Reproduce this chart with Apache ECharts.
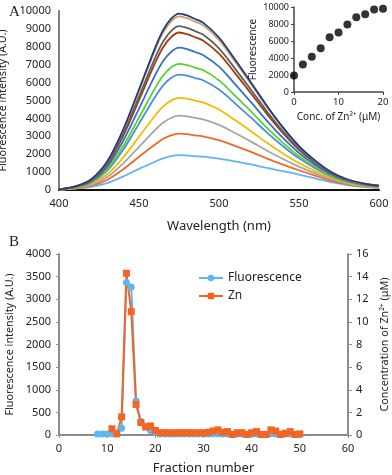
<!DOCTYPE html>
<html>
<head>
<meta charset="utf-8">
<script src="https://cdn.jsdelivr.net/npm/echarts@6/dist/echarts.min.js"></script>
<style>
  html, body { margin: 0; padding: 0; background: #fff; }
  #main { width: 392px; height: 475px; }
</style>
</head>
<body>
<div id="main"></div>
<script>
// ---- panel A: emission spectra, one curve per Zn2+ addition ----
var wavelengths = [400, 410, 420, 430, 440, 450, 460, 465, 470, 475, 480, 485, 490, 500,
                   510, 520, 530, 540, 550, 560, 570, 580, 590, 600];
var spec0  = [20, 78, 170, 380, 750, 1180, 1580, 1765, 1890, 1950, 1930, 1892, 1865, 1755, 1600, 1430, 1230, 1050, 860, 650, 440, 280, 175, 115];
var spec2  = [22, 96, 234, 562, 1145, 1854, 2540, 2850, 3055, 3150, 3120, 3055, 3000, 2783, 2465, 2126, 1757, 1422, 1102, 803, 529, 329, 205, 135];
var spec4  = [23, 111, 287, 712, 1473, 2413, 3345, 3755, 4025, 4150, 4110, 4025, 3945, 3636, 3182, 2703, 2194, 1730, 1303, 929, 603, 369, 230, 151];
var spec6  = [24, 126, 341, 864, 1803, 2976, 4150, 4660, 4995, 5150, 5100, 4995, 4895, 4495, 3904, 3284, 2635, 2041, 1505, 1057, 677, 410, 256, 168];
var spec8  = [26, 146, 410, 1062, 2231, 3708, 5195, 5835, 6255, 6450, 6385, 6255, 6130, 5611, 4843, 4040, 3207, 2445, 1768, 1223, 773, 463, 288, 190];
var spec10 = [26, 155, 442, 1153, 2429, 4045, 5675, 6380, 6840, 7050, 6980, 6840, 6700, 6125, 5275, 4388, 3470, 2631, 1889, 1299, 818, 487, 304, 200];
var spec12 = [28, 168, 490, 1288, 2723, 4546, 6400, 7195, 7710, 7950, 7870, 7710, 7545, 6890, 5918, 4905, 3862, 2907, 2069, 1413, 884, 524, 326, 214];
var spec14 = [29, 181, 535, 1417, 3003, 5025, 7085, 7965, 8535, 8800, 8710, 8535, 8355, 7620, 6532, 5400, 4237, 3172, 2241, 1521, 947, 558, 348, 229];
var spec16 = [29, 186, 554, 1470, 3118, 5220, 7365, 8280, 8875, 9150, 9060, 8875, 8685, 7918, 6783, 5601, 4389, 3279, 2311, 1566, 973, 572, 356, 234];
var spec18 = [30, 195, 583, 1553, 3300, 5531, 7810, 8780, 9410, 9700, 9605, 9410, 9210, 8391, 7181, 5922, 4632, 3450, 2423, 1636, 1014, 595, 370, 244];
var spec20 = [30, 197, 591, 1576, 3349, 5615, 7930, 8915, 9555, 9850, 9750, 9555, 9350, 8520, 7289, 6009, 4698, 3497, 2453, 1655, 1005, 601, 374, 246];

var spectra = [spec0, spec2, spec4, spec6, spec8, spec10, spec12, spec14, spec16, spec18, spec20];
var specColors = ['#5eb5f2', '#f2692c', '#a6a6a6', '#f7b900', '#4a8ede', '#5ccf2e',
                  '#3572c6', '#a03d16', '#5f5f5f', '#cf9e63', '#1f3a80'];

// inset: peak fluorescence vs Zn2+ concentration
var znConc = [0, 2, 4, 6, 8, 10, 12, 14, 16, 18, 20];
var peakFluor = [1950, 3250, 4150, 5150, 6450, 7000, 7950, 8800, 9150, 9700, 9800];

// ---- panel B: fractions ----
var fluorFractions = [8, 9, 10, 11, 12, 13, 14, 15, 16, 17, 18, 19, 20, 21, 22, 23, 24, 25, 26, 27, 28, 29,
                      30, 31, 32, 33, 34, 35, 36, 37, 38, 39, 40, 41, 42, 43, 44, 45, 46, 47, 48, 49, 50];
var fluorValues = [20, 20, 20, 25, 30, 150, 3370, 3270, 750, 300, 200, 100, 60, 20, 20, 20, 20, 20, 20, 20, 20, 20,
                   20, 20, 30, 30, 20, 20, 10, 20, 20, 10, 20, 20, 10, 10, 30, 20, 10, 20, 20, 10, 10];
var znFractions = [11, 12, 13, 14, 15, 16, 17, 18, 19, 20, 21, 22, 23, 24, 25, 26, 27, 28, 29,
                   30, 31, 32, 33, 34, 35, 36, 37, 38, 39, 40, 41, 42, 43, 44, 45, 46, 47, 48, 49, 50];
var znValues = [0.55, 0.1, 1.6, 14.3, 10.9, 2.7, 1.1, 0.7, 0.8, 0.4, 0.2, 0.2, 0.2, 0.2, 0.2, 0.2, 0.2, 0.2, 0.2,
                0.2, 0.25, 0.35, 0.45, 0.25, 0.3, 0.05, 0.2, 0.2, 0.05, 0.2, 0.3, 0.05, 0.05, 0.45, 0.35, 0.05, 0.15, 0.3, 0.05, 0.1];

function pairs(xs, ys) {
    return xs.map(function (x, i) { return [x, ys[i]]; });
}
function plain(v) { return String(v); }

var FONT = 'Noto Sans';
var dom = document.getElementById('main');
var myChart = echarts.init(dom, null, { renderer: 'canvas' });

var series = [];
spectra.forEach(function (s, i) {
    series.push({
        type: 'line',
        xAxisIndex: 0, yAxisIndex: 0,
        data: pairs(wavelengths, s),
        smooth: 0.3,
        showSymbol: false,
        lineStyle: { color: specColors[i], width: 1.8 },
        z: 2 + i
    });
});
series.push({
    type: 'scatter',
    xAxisIndex: 1, yAxisIndex: 1,
    data: pairs(znConc, peakFluor),
    symbolSize: 8,
    itemStyle: { color: '#000' }
});
series.push({
    name: 'Fluorescence',
    type: 'line',
    xAxisIndex: 2, yAxisIndex: 2,
    data: pairs(fluorFractions, fluorValues),
    symbol: 'circle', symbolSize: 7,
    lineStyle: { color: '#5eb5f2', width: 2 },
    itemStyle: { color: '#5eb5f2' }
});
series.push({
    name: 'Zn',
    type: 'line',
    xAxisIndex: 2, yAxisIndex: 3,
    data: pairs(znFractions, znValues),
    symbol: 'rect', symbolSize: 7,
    lineStyle: { color: '#f26522', width: 2 },
    itemStyle: { color: '#f26522' }
});

var tickLbl = { fontFamily: FONT, fontSize: 11, color: '#222', formatter: plain };

var option = {
    animation: false,
    textStyle: { fontFamily: FONT },
    title: [
        { text: 'A', left: 4, top: 0, textStyle: { fontFamily: 'Liberation Serif', fontSize: 15, fontWeight: 'normal', color: '#222' } },
        { text: 'B', left: 4, top: 230, textStyle: { fontFamily: 'Liberation Serif', fontSize: 15, fontWeight: 'normal', color: '#222' } }
    ],
    legend: {
        left: 193, top: 267, orient: 'vertical',
        itemWidth: 24, itemHeight: 8, itemGap: 6,
        textStyle: { fontFamily: FONT, fontSize: 12, color: '#222' },
        data: ['Fluorescence', 'Zn']
    },
    grid: [
        { left: 59, top: 11, width: 320, height: 179, containLabel: false, outerBoundsMode: 'none' },
        { left: 294, top: 7, width: 89, height: 85, containLabel: false, outerBoundsMode: 'none' },
        { left: 59, top: 254, width: 289, height: 181, containLabel: false, outerBoundsMode: 'none' }
    ],
    xAxis: [
        {
            gridIndex: 0, type: 'value', min: 400, max: 600, interval: 50,
            name: 'Wavelength (nm)', nameLocation: 'middle', nameGap: 30,
            nameTextStyle: { fontFamily: FONT, fontSize: 13, color: '#222' },
            axisLine: { lineStyle: { color: '#111', width: 2 } },
            axisTick: { show: false },
            axisLabel: tickLbl,
            splitLine: { show: false }
        },
        {
            gridIndex: 1, type: 'value', min: 0, max: 20, interval: 10,
            name: 'Conc. of Zn²⁺ (μM)', nameLocation: 'middle', nameGap: 20,
            nameTextStyle: { fontFamily: FONT, fontSize: 10, color: '#222' },
            axisLine: { lineStyle: { color: '#444', width: 1.5 } },
            axisTick: { show: true, length: 3, lineStyle: { color: '#444' } },
            axisLabel: { fontFamily: FONT, fontSize: 9.5, color: '#222', margin: 5, formatter: plain },
            splitLine: { show: false }
        },
        {
            gridIndex: 2, type: 'value', min: 0, max: 60, interval: 10,
            name: 'Fraction number', nameLocation: 'middle', nameGap: 27,
            nameTextStyle: { fontFamily: FONT, fontSize: 13, color: '#222' },
            axisLine: { onZero: false, lineStyle: { color: '#8c8c8c', width: 2 } },
            axisTick: { show: true, length: 3, lineStyle: { color: '#8c8c8c' } },
            axisLabel: tickLbl,
            splitLine: { show: false }
        }
    ],
    yAxis: [
        {
            gridIndex: 0, type: 'value', min: 0, max: 10000, interval: 1000,
            name: 'Fluorescence intensity (A.U.)', nameLocation: 'middle', nameGap: 36,
            nameTextStyle: { fontFamily: FONT, fontSize: 10.8, color: '#222' },
            axisLine: { show: true, lineStyle: { color: '#7f7f7f', width: 2 } },
            axisTick: { show: false },
            axisLabel: { fontFamily: FONT, fontSize: 11, color: '#222', margin: 8, formatter: plain },
            splitLine: { show: false }
        },
        {
            gridIndex: 1, type: 'value', min: 0, max: 10000, interval: 2000,
            name: 'Fluorescence', nameLocation: 'middle', nameGap: 36,
            nameTextStyle: { fontFamily: FONT, fontSize: 10, color: '#222' },
            axisLine: { show: true, lineStyle: { color: '#444', width: 1.5 } },
            axisTick: { show: true, length: 3, lineStyle: { color: '#444' } },
            axisLabel: { fontFamily: FONT, fontSize: 9, color: '#222', margin: 5, formatter: plain },
            splitLine: { show: false }
        },
        {
            gridIndex: 2, type: 'value', min: 0, max: 4000, interval: 500,
            name: 'Fluorescence intensity (A.U.)', nameLocation: 'middle', nameGap: 36,
            nameTextStyle: { fontFamily: FONT, fontSize: 10.8, color: '#222' },
            axisLine: { show: true, lineStyle: { color: '#8c8c8c', width: 2 } },
            axisTick: { show: true, length: 3, lineStyle: { color: '#8c8c8c' } },
            axisLabel: tickLbl,
            splitLine: { show: false }
        },
        {
            gridIndex: 2, type: 'value', position: 'right', min: 0, max: 16, interval: 2,
            name: 'Concentration of Zn²⁺ (μM)', nameLocation: 'middle', nameGap: 28,
            nameTextStyle: { fontFamily: FONT, fontSize: 10.8, color: '#222' },
            axisLine: { show: true, lineStyle: { color: '#8c8c8c', width: 2 } },
            axisTick: { show: true, length: 4, lineStyle: { color: '#8c8c8c' } },
            axisLabel: tickLbl,
            splitLine: { show: false }
        }
    ],
    series: series
};

myChart.setOption(option);
window.addEventListener('resize', myChart.resize);
</script>
</body>
</html>
